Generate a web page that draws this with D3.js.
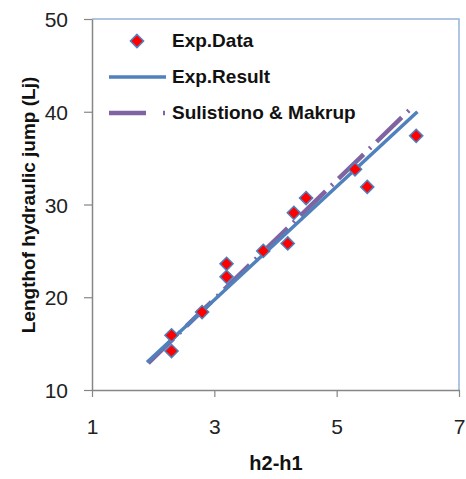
<!DOCTYPE html>
<html>
<head>
<meta charset="utf-8">
<script src="https://cdn.jsdelivr.net/npm/d3@7"></script>
<style>
  body { margin: 0; background: #fff; }
  svg text { font-family: "Liberation Sans", Arial, sans-serif; }
</style>
</head>
<body>
<script>
(function(){

    //measured points (h2-h1, Lj)
    var dataX = [2.3, 2.3, 2.8, 3.2, 3.2, 3.8, 4.2, 4.3, 4.5, 5.3, 5.5, 6.3];
    var dataY = [15.9, 14.2, 18.4, 23.6, 22.2, 25.0, 25.8, 29.1, 30.7, 33.8, 31.9, 37.4];

    //fitted lines, end points
    var expResultX = [1.9, 6.32];
    var expResultY = [13.0, 40.0];
    var sulistionoX = [1.92, 6.19];
    var sulistionoY = [12.9, 40.2];

    var xTicks = [1, 3, 5, 7];
    var yTicks = [10, 20, 30, 40, 50];
    var legendNames = ["Exp.Data", "Exp.Result", "Sulistiono & Makrup"];

    var width = 466, height = 479;
    var margin = {top: 19, right: 7, bottom: 89, left: 92};
    var plotW = width - margin.left - margin.right,
        plotH = height - margin.top - margin.bottom;

    var svg = d3.select("body").append("svg")
        .attr("width", width)
        .attr("height", height);

    var x = d3.scaleLinear().domain([1, 7]).range([0, plotW]);
    var y = d3.scaleLinear().domain([10, 50]).range([plotH, 0]);

    var g = svg.append("g")
        .attr("transform", "translate(" + margin.left + "," + margin.top + ")");

    //top and right border
    g.append("path")
        .attr("d", "M0,0H" + plotW + "V" + plotH)
        .attr("fill", "none")
        .attr("stroke", "#95b3d7")
        .attr("stroke-width", 1.5);

    //axes
    var xAxis = g.append("g")
        .attr("transform", "translate(0," + plotH + ")")
        .call(d3.axisBottom(x).tickValues(xTicks).tickFormat(d3.format("d"))
            .tickSize(7).tickSizeOuter(0).tickPadding(22));
    var yAxis = g.append("g")
        .call(d3.axisLeft(y).tickValues(yTicks).tickFormat(d3.format("d"))
            .tickSize(8).tickSizeOuter(0).tickPadding(16));

    [xAxis, yAxis].forEach(function(a){
        a.select(".domain").attr("stroke", "#868686").attr("stroke-width", 1.5);
        a.selectAll(".tick line").attr("stroke", "#868686").attr("stroke-width", 1.2);
        a.selectAll(".tick text")
            .attr("fill", "#222")
            .style("font-size", "21px")
            .style("font-family", "'Liberation Sans', Arial, sans-serif");
    });
    yAxis.selectAll(".tick text").attr("dy", "0.36em");

    //lines
    var line = d3.line()
        .x(function(d){ return x(d[0]); })
        .y(function(d){ return y(d[1]); });

    var sulPts = sulistionoX.map(function(v, i){ return [v, sulistionoY[i]]; });
    var expPts = expResultX.map(function(v, i){ return [v, expResultY[i]]; });

    g.append("path")
        .datum(sulPts)
        .attr("d", line)
        .attr("fill", "none")
        .attr("stroke", "#8064a2")
        .attr("stroke-width", 4.5)
        .attr("stroke-dasharray", "35,8,2,8");

    g.append("path")
        .datum(expPts)
        .attr("d", line)
        .attr("fill", "none")
        .attr("stroke", "#4f81bd")
        .attr("stroke-width", 3.5);

    //diamonds
    var diamond = d3.symbol().type(d3.symbolDiamond2).size(110);
    g.selectAll(".pt")
        .data(dataX)
        .enter()
        .append("path")
        .attr("class", "pt")
        .attr("transform", function(d, i){ return "translate(" + x(d) + "," + y(dataY[i]) + ")"; })
        .attr("d", diamond)
        .attr("fill", "#ff0000")
        .attr("stroke", "#4f81bd")
        .attr("stroke-width", 1.5);

    //legend
    var leg = svg.append("g");
    leg.append("path")
        .attr("transform", "translate(137,41)")
        .attr("d", diamond)
        .attr("fill", "#ff0000")
        .attr("stroke", "#4f81bd")
        .attr("stroke-width", 1.5);
    leg.append("line")
        .attr("x1", 109).attr("x2", 166).attr("y1", 77).attr("y2", 77)
        .attr("stroke", "#4f81bd").attr("stroke-width", 3.5);
    leg.append("line")
        .attr("x1", 109).attr("x2", 166).attr("y1", 113).attr("y2", 113)
        .attr("stroke", "#8064a2").attr("stroke-width", 4.5)
        .attr("stroke-dasharray", "37,17,2,20");
    leg.selectAll(".lt")
        .data(legendNames)
        .enter()
        .append("text")
        .attr("x", 172)
        .attr("y", function(d, i){ return 47 + i * 36; })
        .style("font-size", "19px")
        .style("font-weight", "bold")
        .attr("fill", "#111")
        .text(function(d){ return d; });

    //axis titles
    svg.append("text")
        .attr("x", 276).attr("y", 470)
        .attr("text-anchor", "middle")
        .style("font-size", "20px")
        .style("font-weight", "bold")
        .attr("fill", "#111")
        .text("h2-h1");

    svg.append("text")
        .attr("transform", "translate(35,205) rotate(-90)")
        .attr("text-anchor", "middle")
        .style("font-size", "19px")
        .style("font-weight", "bold")
        .attr("fill", "#111")
        .text("Lengthof hydraulic jump (Lj)");

})();
</script>
</body>
</html>
